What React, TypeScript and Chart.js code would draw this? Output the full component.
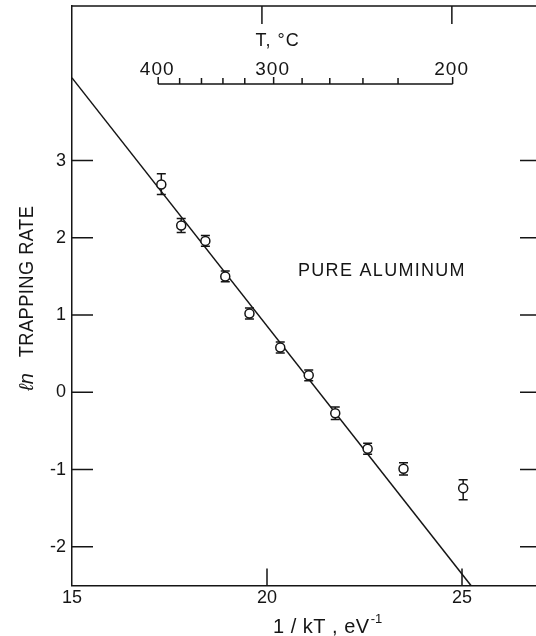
import React, { useEffect, useRef } from 'react';
import { Chart, registerables } from 'chart.js';

Chart.register(...registerables);

// Measured points: 1/kT (eV^-1) and ln(trapping rate)
const invKT = [17.29, 17.8, 18.42, 18.93, 19.55, 20.34, 21.07, 21.75, 22.58, 23.5, 25.03];
const lnRate = [2.69, 2.16, 1.96, 1.5, 1.02, 0.58, 0.22, -0.27, -0.73, -0.99, -1.24];
const errUp = [0.14, 0.09, 0.07, 0.07, 0.07, 0.07, 0.07, 0.08, 0.07, 0.08, 0.11];
const errDown = [0.13, 0.09, 0.07, 0.07, 0.07, 0.07, 0.07, 0.08, 0.07, 0.08, 0.15];

// Fitted straight line
const fitInvKT = [15, 25.23];
const fitLnRate = [4.07, -2.5];

// Axes
const xMin = 15;
const xMax = 27;
const yMin = -2.5;
const yMax = 5;
const xTickValues = [15, 20, 25];
const yTickValues = [-2, -1, 0, 1, 2, 3];
const topFrameTicks = [19.87, 24.74];

// Secondary temperature scale (T, °C) placed at 1/kT positions
const tempValues = [400, 380, 360, 340, 320, 300, 280, 260, 240, 220, 200];
const tempPositions = [17.21, 17.76, 18.32, 18.87, 19.43, 20.17, 20.9, 21.61, 22.46, 23.36, 24.76];
const tempLabeled = [400, 300, 200];

const FONT = '"Liberation Sans", "DejaVu Sans", sans-serif';
const INK = '#151515';

function drawText(
  ctx: CanvasRenderingContext2D,
  text: string,
  x: number,
  y: number,
  size: number,
  opts: { align?: CanvasTextAlign; rotate?: number; sx?: number; spacing?: number; italic?: boolean } = {}
) {
  ctx.save();
  ctx.translate(x, y);
  if (opts.rotate) ctx.rotate(opts.rotate);
  ctx.scale(opts.sx ?? 1, 1);
  ctx.font = `${opts.italic ? 'italic ' : ''}${size}px ${FONT}`;
  (ctx as any).letterSpacing = `${opts.spacing ?? 0}px`;
  ctx.textAlign = opts.align ?? 'left';
  ctx.textBaseline = 'alphabetic';
  ctx.fillStyle = INK;
  ctx.fillText(text, 0, 0);
  ctx.restore();
}

const decorPlugin = {
  id: 'decor',
  beforeDatasetsDraw(chart: any) {
    const ctx: CanvasRenderingContext2D = chart.ctx;
    const xs = chart.scales.x;
    const ys = chart.scales.y;
    ctx.save();
    ctx.strokeStyle = INK;
    ctx.lineWidth = 1.5;
    for (let i = 0; i < invKT.length; i++) {
      const px = xs.getPixelForValue(invKT[i]);
      const top = ys.getPixelForValue(lnRate[i] + errUp[i]);
      const bot = ys.getPixelForValue(lnRate[i] - errDown[i]);
      ctx.beginPath();
      ctx.moveTo(px, top);
      ctx.lineTo(px, bot);
      ctx.moveTo(px - 4.5, top);
      ctx.lineTo(px + 4.5, top);
      ctx.moveTo(px - 4.5, bot);
      ctx.lineTo(px + 4.5, bot);
      ctx.stroke();
    }
    ctx.restore();
  },
  afterDraw(chart: any) {
    const ctx: CanvasRenderingContext2D = chart.ctx;
    const { left, right, top, bottom } = chart.chartArea;
    const xs = chart.scales.x;
    const ys = chart.scales.y;
    ctx.save();
    ctx.strokeStyle = INK;
    ctx.lineWidth = 1.5;
    ctx.lineCap = 'butt';
    // frame top & right
    ctx.beginPath();
    ctx.moveTo(left, top);
    ctx.lineTo(right, top);
    ctx.lineTo(right, bottom);
    ctx.stroke();
    // left and right inward ticks
    ctx.beginPath();
    for (const v of yTickValues) {
      const py = ys.getPixelForValue(v);
      ctx.moveTo(left, py);
      ctx.lineTo(left + 21, py);
      ctx.moveTo(right, py);
      ctx.lineTo(right - 20, py);
    }
    // bottom inward ticks
    for (const v of xTickValues) {
      if (v === xMin) continue;
      const px = xs.getPixelForValue(v);
      ctx.moveTo(px, bottom);
      ctx.lineTo(px, bottom - 17);
    }
    // top frame ticks
    for (const v of topFrameTicks) {
      const px = xs.getPixelForValue(v);
      ctx.moveTo(px, top);
      ctx.lineTo(px, top + 18);
    }
    ctx.stroke();

    // temperature scale
    const axisY = top + 78;
    const x0 = xs.getPixelForValue(tempPositions[0]);
    const x1 = xs.getPixelForValue(tempPositions[tempPositions.length - 1]);
    ctx.beginPath();
    ctx.moveTo(x0, axisY);
    ctx.lineTo(x1, axisY);
    for (let i = 0; i < tempPositions.length; i++) {
      const px = xs.getPixelForValue(tempPositions[i]);
      const major = tempLabeled.includes(tempValues[i]);
      ctx.moveTo(px, axisY);
      ctx.lineTo(px, axisY - (major ? 7 : 6));
    }
    ctx.stroke();
    ctx.restore();

    for (let i = 0; i < tempPositions.length; i++) {
      if (!tempLabeled.includes(tempValues[i])) continue;
      const px = xs.getPixelForValue(tempPositions[i]);
      drawText(ctx, String(tempValues[i]), px - 1, axisY - 9, 19, { align: 'center', spacing: 1 });
    }
    drawText(ctx, 'T, °C', xs.getPixelForValue(20.27), top + 39.5, 18, { align: 'center', spacing: 1 });

    // annotation
    drawText(ctx, 'PURE ALUMINUM', 298, ys.getPixelForValue(1.51), 18, { spacing: 1.3 });

    // y title (rotated)
    drawText(ctx, 'TRAPPING RATE', 33, 281.5, 21, { align: 'center', rotate: -Math.PI / 2, sx: 0.87, spacing: 0.5 });
    drawText(ctx, 'ℓn', 33, 382, 20, { align: 'center', rotate: -Math.PI / 2, italic: true });

    // x title
    const titleX = 273;
    const titleY = 632.5;
    drawText(ctx, '1 / kT , eV', titleX, titleY, 20, { spacing: 0.5 });
    ctx.save();
    ctx.font = `20px ${FONT}`;
    (ctx as any).letterSpacing = '0.5px';
    const w = ctx.measureText('1 / kT , eV').width;
    ctx.restore();
    drawText(ctx, '-1', titleX + w + 1, titleY - 10, 13, {});
  },
};

export default function App() {
  const ref = useRef<HTMLCanvasElement | null>(null);
  useEffect(() => {
    if (!ref.current) return;
    const chart = new Chart(ref.current, {
      type: 'scatter',
      data: {
        datasets: [
          {
            type: 'scatter',
            data: invKT.map((x, i) => ({ x, y: lnRate[i] })),
            pointRadius: 4.5,
            pointBorderWidth: 1.5,
            pointBackgroundColor: '#ffffff',
            pointBorderColor: INK,
            borderColor: INK,
            backgroundColor: '#ffffff',
          },
          {
            type: 'line',
            data: fitInvKT.map((x, i) => ({ x, y: fitLnRate[i] })),
            borderColor: INK,
            borderWidth: 1.5,
            pointRadius: 0,
            fill: false,
          },
        ],
      },
      options: {
        responsive: false,
        animation: false,
        events: [],
        layout: { padding: { left: 0, top: 6, right: 20, bottom: 0 } },
        plugins: { legend: { display: false }, tooltip: { enabled: false } },
        scales: {
          x: {
            type: 'linear',
            min: xMin,
            max: xMax,
            afterBuildTicks: (s: any) => {
              s.ticks = xTickValues.map((v) => ({ value: v }));
            },
            afterFit: (s: any) => {
              s.height = 50.5;
              s.paddingLeft = 0;
              s.paddingRight = 0;
            },
            grid: { display: false, drawTicks: false },
            border: { display: true, color: INK, width: 1.5 },
            ticks: {
              color: INK,
              padding: 2,
              maxRotation: 0,
              font: { family: FONT, size: 18 },
              callback: (v: any) => String(v),
            },
          },
          y: {
            type: 'linear',
            min: yMin,
            max: yMax,
            afterBuildTicks: (s: any) => {
              s.ticks = yTickValues.map((v) => ({ value: v }));
            },
            afterFit: (s: any) => {
              s.width = 72;
              s.paddingTop = 0;
              s.paddingBottom = 0;
            },
            grid: { display: false, drawTicks: false },
            border: { display: true, color: INK, width: 1.5 },
            ticks: {
              color: INK,
              padding: 6,
              font: { family: FONT, size: 18 },
              callback: (v: any) => String(v),
            },
          },
        },
      },
      plugins: [decorPlugin],
    } as any);
    return () => chart.destroy();
  }, []);
  return (
    <div style={{ position: 'fixed', left: 0, top: 0, width: 536, height: 636, overflow: 'hidden', background: '#fff' }}>
      <canvas ref={ref} width={560} height={636} style={{ display: 'block' }} />
    </div>
  );
}
